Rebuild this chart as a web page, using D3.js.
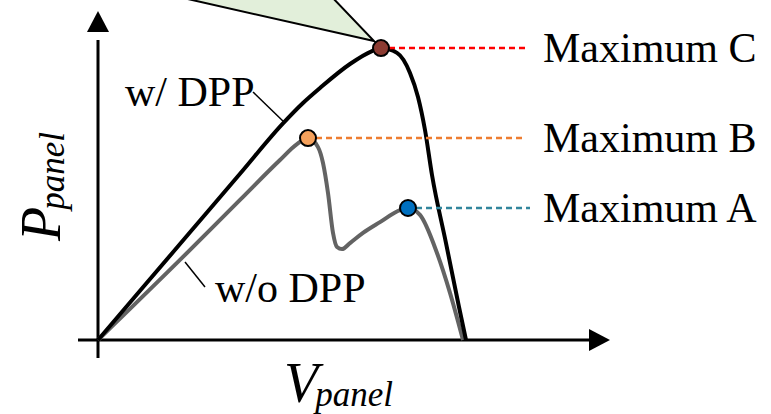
<!DOCTYPE html>
<html>
<head>
<meta charset="utf-8">
<script src="https://cdn.jsdelivr.net/npm/d3@7/dist/d3.min.js"></script>
</head>
<body style="margin:0">
<svg id="chart" width="771" height="414" font-family="Liberation Serif, Times New Roman, Tinos, DejaVu Serif, serif"></svg>
<script>
// P-V curves of a partially shaded panel, with and without DPP
const withDPP_V = [0, 8.4, 18.4, 28.4, 37, 41, 44.4, 50.4, 54.8, 56.6, 59.8, 62.4, 64, 65.4, 66.8, 69.6, 72.2, 73.6];
const withDPP_P = [0, 16.4, 35.9, 55.4, 72.2, 79, 84, 92, 96.3, 97.3, 95.7, 89, 81, 70, 55, 32.3, 11, 0];

const withoutDPP_V = [0, 17, 28.4, 36.4, 39.8, 42, 44, 45, 46, 47, 47.8, 48.8, 50.4, 53, 56.4, 60.4, 62, 64.4, 67.8, 70.4, 73];
const withoutDPP_P = [0, 27.7, 46.7, 60, 65.3, 67.3, 64.3, 59, 49, 35.7, 31, 30.3, 32.3, 35.7, 39.3, 43.3, 44, 41.7, 29, 15.7, 0];

// Maximum power points
const maxNames = ["Maximum C", "Maximum B", "Maximum A"];
const maxV = [56.6, 42, 62];
const maxP = [97.3, 67.3, 44];
const maxFill = ["#8c3b32", "#f5a15c", "#0070c0"];
const maxDash = ["#ff0000", "#ed7d31", "#31859c"];

const curveLabels = ["w/ DPP", "w/o DPP"];

const FONT = "Liberation Serif";

const svg = d3.select("#chart");
const x = d3.scaleLinear().domain([0, 100]).range([98, 598]);
const y = d3.scaleLinear().domain([0, 100]).range([340, 40]);

function label(sel) {
  return sel.attr("font-family", FONT).style("font-family", `"${FONT}"`);
}

// callout wedge pointing at Maximum C
const cx = x(maxV[0]), cy = y(maxP[0]);
svg.append("path")
  .attr("d", `M${cx - 211},-5 L${cx - 51},-5 L${cx - 7},${cy - 7} Z`)
  .attr("fill", "#e2efda")
  .attr("stroke", "#000")
  .attr("stroke-width", 2);

// axes with arrowheads
const axisG = svg.append("g");
axisG.append("line")
  .attr("x1", x(-4)).attr("x2", x(100)).attr("y1", y(0)).attr("y2", y(0))
  .attr("stroke", "#000").attr("stroke-width", 3);
axisG.append("line")
  .attr("x1", x(0)).attr("x2", x(0)).attr("y1", y(-6)).attr("y2", y(100))
  .attr("stroke", "#000").attr("stroke-width", 3);
const xt = x(102.4), yt = y(0);
axisG.append("path")
  .attr("d", `M${xt},${yt} L${xt - 21},${yt - 11} L${xt - 21},${yt + 11} Z`)
  .attr("fill", "#000");
const ax = x(0), at = y(109.7);
axisG.append("path")
  .attr("d", `M${ax},${at} L${ax - 11},${at + 21} L${ax + 11},${at + 21} Z`)
  .attr("fill", "#000");

// curves
const line = d3.line()
  .x(d => x(d[0])).y(d => y(d[1]))
  .curve(d3.curveMonotoneX);

svg.append("path")
  .datum(withoutDPP_V.map((v, i) => [v, withoutDPP_P[i]]))
  .attr("d", line)
  .attr("fill", "none")
  .attr("stroke", "#636363")
  .attr("stroke-width", 4)
  .attr("stroke-linejoin", "round");

svg.append("path")
  .datum(withDPP_V.map((v, i) => [v, withDPP_P[i]]))
  .attr("d", line)
  .attr("fill", "none")
  .attr("stroke", "#000")
  .attr("stroke-width", 4)
  .attr("stroke-linejoin", "round");

// dashed guides from each maximum to its label
const dashEnd = [85.4, 85.4, 86.4];
maxNames.forEach((name, i) => {
  svg.append("line")
    .attr("x1", x(maxV[i]) + 8).attr("x2", x(dashEnd[i]))
    .attr("y1", y(maxP[i])).attr("y2", y(maxP[i]))
    .attr("stroke", maxDash[i])
    .attr("stroke-width", 2.5)
    .attr("stroke-dasharray", "6,4");
  label(svg.append("text"))
    .attr("x", 543)
    .attr("y", y(maxP[i]) + 13.5)
    .attr("font-size", 42)
    .text(name);
});

// markers
maxNames.forEach((name, i) => {
  svg.append("circle")
    .attr("cx", x(maxV[i])).attr("cy", y(maxP[i])).attr("r", 8)
    .attr("fill", maxFill[i])
    .attr("stroke", "#000")
    .attr("stroke-width", 2);
});

// curve labels with leader lines
label(svg.append("text")).attr("x", 125).attr("y", 106)
  .attr("font-size", 42).text(curveLabels[0]);
svg.append("line").attr("x1", 253).attr("y1", 92).attr("x2", 285).attr("y2", 123)
  .attr("stroke", "#000").attr("stroke-width", 1.5);
label(svg.append("text")).attr("x", 215).attr("y", 302)
  .attr("font-size", 42).text(curveLabels[1]);
svg.append("line").attr("x1", 185).attr("y1", 262).attr("x2", 205).attr("y2", 287)
  .attr("stroke", "#000").attr("stroke-width", 1.5);

// axis titles
const vLab = label(svg.append("text")).attr("x", 284).attr("y", 402)
  .attr("font-style", "italic").attr("font-size", 56);
vLab.append("tspan").text("V");
vLab.append("tspan").attr("font-size", 35).attr("dx", -3).attr("dy", 4).text("panel");

const pLab = label(svg.append("text"))
  .attr("transform", "translate(60,241) rotate(-90)")
  .attr("font-style", "italic").attr("font-size", 56);
pLab.append("tspan").text("P");
pLab.append("tspan").attr("font-size", 35).attr("dx", -3).attr("dy", 4).text("panel");
</script>
</body>
</html>
